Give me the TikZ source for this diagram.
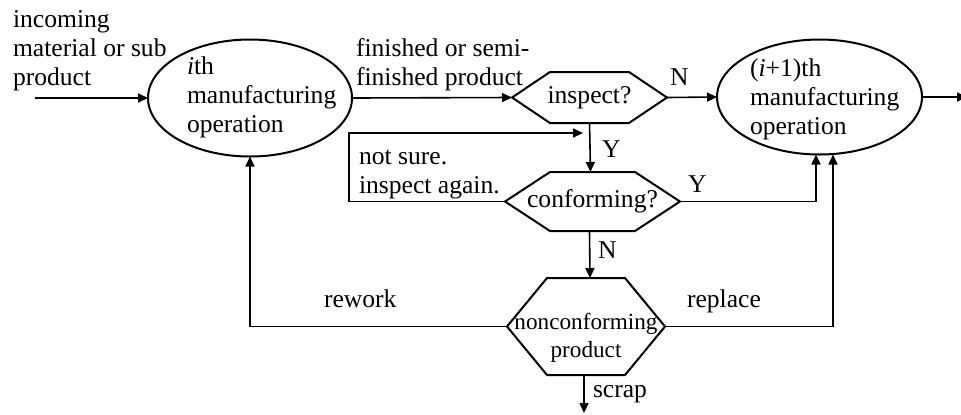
\documentclass[tikz,border=0pt]{standalone}
\usepackage{fontspec}
\setmainfont{Liberation Serif}
\usetikzlibrary{arrows.meta,shapes.geometric}
\newcommand\hexframe[2]{%
  \draw[hexline] (#1.west) -- ([xshift=#2]#1.north west) -- ([xshift=-#2]#1.north east)
    -- (#1.east) -- ([xshift=-#2]#1.south east) -- ([xshift=#2]#1.south west) -- cycle;}
\begin{document}
\begin{tikzpicture}[x=0.5pt,y=-0.5pt,
  every node/.style={font=\fontsize{12.8}{14.5}\selectfont, inner sep=0pt, outer sep=0pt},
  opnode/.style={draw, ellipse, line width=1pt, minimum width=#1},
  hexbox/.style={inner sep=0pt},
  hexline/.style={line width=1pt, line join=miter},
  conn/.style={line width=0.8pt, -{Triangle[length=5pt,width=4.5pt]}},
  lbl/.style={anchor=base west, align=left}]
\useasboundingbox (0,0) rectangle (961,414);

% operations
\node[opnode=102pt, minimum height=58.5pt] (op1) at (250,98) {};
\node[opnode=102.5pt, minimum height=57.5pt] (op2) at (819.5,97) {};
\node[lbl] (op1t) at (187,132) {\textit{i}th\\manufacturing\\operation};
\node[lbl] (op2t) at (750,134) {(\textit{i}+1)th\\manufacturing\\operation};

% decisions
\node[hexbox, minimum width=77.5pt, minimum height=25.5pt] (insp) at (589.5,97.5) {inspect?};
\hexframe{insp}{19pt}
\node[hexbox, minimum width=87.5pt, minimum height=29.5pt] (conf) at (592.5,201.5) {conforming?};
\hexframe{conf}{22.5pt}
\node[hexbox, minimum width=79pt, minimum height=48.5pt] (nonc) at (586,326.5) {};
\hexframe{nonc}{20pt}
\node[font=\fontsize{11.6}{14}\selectfont, align=center] (noncT) at (586,338) {nonconforming\\product};

% free ends
\coordinate (inStart) at (35,98);
\coordinate (outEnd) at (967,97);
\coordinate (loopC) at (349,133);
\coordinate (loopE) at (583,133);
\coordinate (scrapEnd) at (584,413);

% connectors
\draw[conn] (inStart) -- (op1.west);
\draw[conn] (op1.east) -- (insp.west);
\draw[conn] (insp.east) -- (op2.west);
\draw[conn] (op2.east) -- (outEnd);
\draw[conn] (insp.south) -- ([xshift=-1pt]conf.north);
\draw[conn] (conf.west) -| (loopC) -- (loopE);
\draw[conn] (conf.east) -| ([xshift=-1.75pt]op2.south);
\draw[conn] ([xshift=-1.5pt]conf.south) -- ([xshift=2pt]nonc.north);
\draw[conn] (nonc.west) -| (op1.south);
\draw[conn] (nonc.east) -| ([xshift=6.75pt]op2.south);
\draw[conn] (nonc.south -| scrapEnd) -- (scrapEnd);

% labels
\node[lbl] (inc) at (13,85) {incoming\\material or sub\\product};
\node[lbl] (fin) at (356,85) {finished or semi-\\finished product};
\node[lbl] (lN1) at (670,85) {N};
\node[lbl] (lY1) at (602,157) {Y};
\node[lbl] (ns) at (359,193) {not sure.\\inspect again.};
\node[lbl] (lY2) at (688,192) {Y};
\node[lbl] (lN2) at (598,258) {N};
\node[lbl] (rw) at (324,307) {rework};
\node[lbl] (rp) at (687,307) {replace};
\node[lbl] (sc) at (593,397) {scrap};
\end{tikzpicture}
\end{document}
